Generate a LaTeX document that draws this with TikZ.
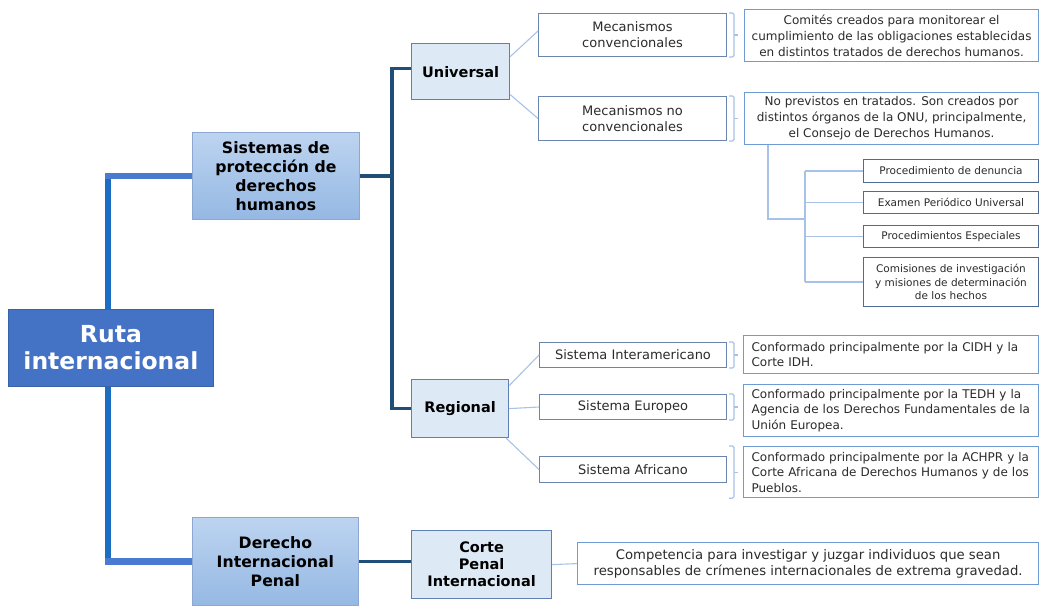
\documentclass[tikz,border=0pt]{standalone}
\usepackage{fontspec}
\setmainfont{DejaVu Sans}
\usetikzlibrary{calc}
\definecolor{rutafill}{HTML}{4472C4}
\definecolor{rutaborder}{HTML}{3A62A8}
\definecolor{trunkv}{HTML}{1B6EC2}
\definecolor{trunkh}{HTML}{4A7BD0}
\definecolor{darkc}{HTML}{1F4E79}
\definecolor{lonetop}{HTML}{BDD4F0}
\definecolor{lonebot}{HTML}{95B8E3}
\definecolor{loneborder}{HTML}{8CA8D2}
\definecolor{ltwofill}{HTML}{DEE9F6}
\definecolor{ltwoborder}{HTML}{5E80B2}
\definecolor{itemborder}{HTML}{6B86AE}
\definecolor{noteborder}{HTML}{6F9BD3}
\definecolor{subborder}{HTML}{4E6A96}
\definecolor{thinc}{HTML}{A7C2E6}
\definecolor{txt}{HTML}{2B2B2B}
\tikzset{
  rootbox/.style={draw=rutaborder, fill=rutafill, text=white, line width=0.8pt,
    font=\bfseries\fontsize{23.5}{27}\selectfont, align=center, inner sep=0pt},
  lonebox/.style={draw=loneborder, top color=lonetop, bottom color=lonebot, line width=0.8pt,
    font=\bfseries\fontsize{15.7}{19}\selectfont, align=center, inner sep=0pt},
  ltwobox/.style={draw=ltwoborder, fill=ltwofill, line width=1.2pt,
    font=\bfseries\fontsize{14.5}{17}\selectfont, align=center, inner sep=0pt},
  itembox/.style={draw=itemborder, fill=white, line width=1pt, text=txt,
    font=\fontsize{13}{16}\selectfont, align=center, inner sep=0pt},
  notebox/.style={draw=noteborder, fill=white, line width=1.2pt, text=txt,
    font=\fontsize{12}{16}\selectfont, align=center, inner sep=0pt},
  widenote/.style={notebox, font=\fontsize{13.2}{15.5}\selectfont},
  noteleft/.style={draw=noteborder, fill=white, line width=1.2pt, text=txt,
    font=\fontsize{12}{15.5}\selectfont, align=left, text width=279pt, inner xsep=8pt, inner ysep=0pt},
  subbox/.style={draw=subborder, fill=white, line width=1pt, text=txt,
    font=\fontsize{10.5}{13.5}\selectfont, align=center, inner sep=0pt},
  trunkvline/.style={draw=trunkv, line width=6.5pt},
  trunkhline/.style={draw=trunkh, line width=6.5pt},
  darkline/.style={draw=darkc, line width=3.5pt},
  thinline/.style={draw=thinc, line width=1.1pt},
  brk/.style={draw=thinc, line width=1.1pt, rounded corners=1.5pt},
}
\newcommand\bx[7]{\node[#1, anchor=north west, minimum width={#4pt-#2pt}, minimum height={#5pt-#3pt}] (#6) at (#2,#3) {#7};}
\begin{document}
\begin{tikzpicture}[x=1pt, y=-1pt]
\useasboundingbox (0,0) rectangle (1039,606);
% coordinates for trunks
\coordinate (tx) at (108,0);
\coordinate (vx) at (392,0);
\coordinate (hub) at (805,219);

% nodes
\bx{rootbox}{8}{309}{213}{386}{ruta}{Ruta\\internacional}
\bx{lonebox}{192}{132}{359}{219}{sis}{Sistemas de\\protección de\\derechos\\humanos}
\bx{lonebox}{192}{517}{358}{605}{dip}{Derecho\\Internacional\\Penal}
\bx{ltwobox}{411}{43}{509}{99}{uni}{Universal}
\bx{ltwobox}{411}{379}{508}{437}{reg}{Regional}
\bx{ltwobox}{411}{530}{551}{598}{cpi}{Corte\\Penal\\Internacional}

\bx{itembox}{538}{13}{726}{56}{mc}{Mecanismos\\convencionales}
\bx{itembox}{538}{96}{726}{140}{mn}{Mecanismos no\\convencionales}
\bx{notebox}{744}{9}{1038}{61}{tc}{Comités creados para monitorear el\\cumplimiento de las obligaciones establecidas\\en distintos tratados de derechos humanos.}
\bx{notebox}{744}{92}{1038}{144}{tn}{No previstos en tratados. Son creados por\\distintos órganos de la ONU, principalmente,\\el Consejo de Derechos Humanos.}

\bx{subbox}{863}{159}{1038}{182}{pd}{Procedimiento de denuncia}
\bx{subbox}{863}{191}{1038}{213}{ep}{Examen Periódico Universal}
\bx{subbox}{863}{225}{1038}{247}{pe}{Procedimientos Especiales}
\bx{subbox}{863}{257}{1038}{306}{cm}{Comisiones de investigación\\y misiones de determinación\\de los hechos}

\bx{itembox}{539}{342}{726}{367}{ia}{Sistema Interamericano}
\bx{itembox}{539}{394}{726}{419}{eu}{Sistema Europeo}
\bx{itembox}{539}{456}{726}{482}{af}{Sistema Africano}
\bx{noteleft}{743}{335}{1038}{373}{ti}{Conformado principalmente por la CIDH y la\\Corte IDH.}
\bx{noteleft}{743}{384}{1038}{436}{te}{Conformado principalmente por la TEDH y la\\Agencia de los Derechos Fundamentales de la\\Unión Europea.}
\bx{noteleft}{743}{446}{1038}{497}{ta}{Conformado principalmente por la ACHPR y la\\Corte Africana de Derechos Humanos y de los\\Pueblos.}

\bx{widenote}{577}{542}{1038}{584}{cp}{Competencia para investigar y juzgar individuos que sean\\responsables de crímenes internacionales de extrema gravedad.}

% trunk connectors
\draw[trunkvline] (ruta.north -| tx) -- ([yshift=3.25pt]tx |- sis.west);
\draw[trunkvline] (ruta.south -| tx) -- ([yshift=-3.25pt]tx |- dip.west);
\draw[trunkhline] ([xshift=-3.25pt]tx |- sis.west) -- (sis.west);
\draw[trunkhline] ([xshift=-3.25pt]tx |- dip.west) -- (dip.west);

% dark connectors
\draw[darkline] (sis.east) -- (sis.east -| vx);
\draw[darkline] ([yshift=3pt]uni.west) -| (vx |- reg.west) -- (reg.west);
\draw[darkline] (dip.east) -- (dip.east -| cpi.west);

% thin connectors
\draw[thinline] ([yshift=15pt]uni.east) -- ([yshift=4pt]mc.west);
\draw[thinline] ([yshift=-23pt]uni.east) -- (mn.west);
\draw[thinline] ([yshift=23pt]reg.east) -- (ia.west);
\draw[thinline] (reg.east) -- (eu.west);
\draw[thinline] ([xshift=-3pt]reg.south east) -- (af.west);
\draw[thinline] (cpi.east) -- (cp.west);

% sub list
\draw[thinline] ([xshift=24pt]tn.south west) |- (hub);
\draw[thinline] (hub |- pd.west) -- (hub |- cm.west);
\draw[thinline] (hub |- pd.west) -- (pd.west);
\draw[thinline] (hub |- ep.west) -- (ep.west);
\draw[thinline] (hub |- pe.west) -- (pe.west);
\draw[thinline] (hub |- cm.west) -- (cm.west);

% brackets
\foreach \n in {mc,mn,ia,eu}{
  \draw[brk] ([xshift=2pt]\n.north east) -- ++(5,0) -- ([xshift=7pt]\n.south east) -- ([xshift=2pt]\n.south east);
  \draw[thinline] ([xshift=7pt]\n.east) -- ++(4,0);
}
\draw[brk] ([xshift=2pt]af.east |- ta.north) -- ++(5,0) -- ([xshift=7pt]af.east |- ta.south) -- ([xshift=2pt]af.east |- ta.south);
\draw[thinline] ([xshift=7pt]af.east |- ta.east) -- ++(4,0);
\end{tikzpicture}
\end{document}
